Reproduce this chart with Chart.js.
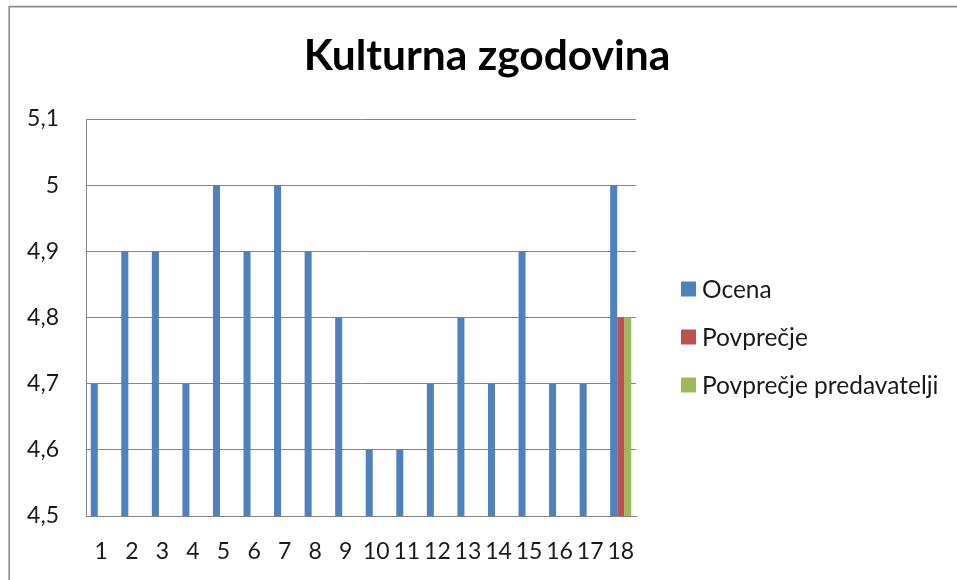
<!DOCTYPE html>
<html>
<head>
<meta charset="utf-8">
<script src="https://cdn.jsdelivr.net/npm/chart.js@4.4.1/dist/chart.umd.min.js"></script>
<style>
html,body{margin:0;padding:0;background:#fff;}
#wrap{position:relative;width:957px;height:580px;}
</style>
</head>
<body>
<div id="wrap"><canvas id="c" width="957" height="580"></canvas></div>
<script>
const titleText = 'Kulturna zgodovina';
const categories = ['1','2','3','4','5','6','7','8','9','10','11','12','13','14','15','16','17','18'];
const seriesNames = ['Ocena', 'Povprečje', 'Povprečje predavatelji'];
const ocena = [4.7, 4.9, 4.9, 4.7, 5.0, 4.9, 5.0, 4.9, 4.8, 4.6, 4.6, 4.7, 4.8, 4.7, 4.9, 4.7, 4.7, 5.0];
const povprecje = [null, null, null, null, null, null, null, null, null, null, null, null, null, null, null, null, null, 4.8];
const povprecjePredavatelji = [null, null, null, null, null, null, null, null, null, null, null, null, null, null, null, null, null, 4.8];
const yTickLabels = ['4,5', '4,6', '4,7', '4,8', '4,9', '5', '5,1'];
const colors = ['#4F81BD', '#C0504D', '#9BBB59'];

const FONT = 'Lato, "Open Sans", sans-serif';

const framePlugin = {
  id: 'frame',
  beforeDraw(chart) {
    const ctx = chart.ctx;
    ctx.save();
    ctx.fillStyle = '#fff';
    ctx.fillRect(0, 0, chart.width, chart.height);
    ctx.strokeStyle = '#8c8c8c';
    ctx.lineWidth = 1.6;
    ctx.beginPath();
    ctx.moveTo(9.2, chart.height + 2);
    ctx.lineTo(9.2, 6.6);
    ctx.lineTo(chart.width + 2, 6.6);
    ctx.stroke();
    ctx.restore();
  }
};

const titleLegendPlugin = {
  id: 'titleLegend',
  afterDraw(chart) {
    const ctx = chart.ctx;
    ctx.save();
    // title
    ctx.font = 'bold 42.5px ' + FONT;
    ctx.fillStyle = '#000';
    ctx.textAlign = 'center';
    ctx.textBaseline = 'alphabetic';
    ctx.fillText(titleText, 487, 70);
    // legend
    ctx.font = '24.5px ' + FONT;
    ctx.textBaseline = 'middle';
    ctx.textAlign = 'left';
    const x0 = 681, ys = [289, 337, 385], box = 15;
    chart.data.datasets.forEach((ds, i) => {
      ctx.fillStyle = ds.backgroundColor;
      ctx.fillRect(x0, ys[i] - box / 2, box, box);
      ctx.fillStyle = '#1a1a1a';
      ctx.fillText(ds.label, 702, ys[i] + 1);
    });
    ctx.restore();
  }
};

new Chart(document.getElementById('c'), {
  type: 'bar',
  data: {
    labels: categories,
    datasets: [
      { label: seriesNames[0], data: ocena, backgroundColor: colors[0] },
      { label: seriesNames[1], data: povprecje, backgroundColor: colors[1] },
      { label: seriesNames[2], data: povprecjePredavatelji, backgroundColor: colors[2] }
    ]
  },
  options: {
    responsive: false,
    animation: false,
    devicePixelRatio: 1,
    datasets: { bar: { categoryPercentage: 0.69, barPercentage: 1.0 } },
    layout: { padding: { left: 0, right: 321, top: 119, bottom: 0 } },
    plugins: {
      legend: { display: false },
      tooltip: { enabled: false },
      title: { display: false }
    },
    scales: {
      x: {
        grid: { display: false, drawTicks: false },
        border: { color: '#868686', width: 1 },
        ticks: { color: '#1a1a1a', font: { family: FONT, size: 23 }, padding: 22, maxRotation: 0, autoSkip: false },
        afterFit(s) { s.height = 64; }
      },
      y: {
        min: 4.5,
        max: 5.1,
        grid: { color: '#868686', lineWidth: 1, drawTicks: false },
        border: { color: '#868686', width: 1 },
        ticks: {
          stepSize: 0.1,
          color: '#1a1a1a',
          font: { family: FONT, size: 23 },
          padding: 27,
          callback: (v, i) => yTickLabels[i]
        },
        afterFit(s) { s.width = 86; }
      }
    }
  },
  plugins: [framePlugin, titleLegendPlugin]
});
</script>
</body>
</html>
